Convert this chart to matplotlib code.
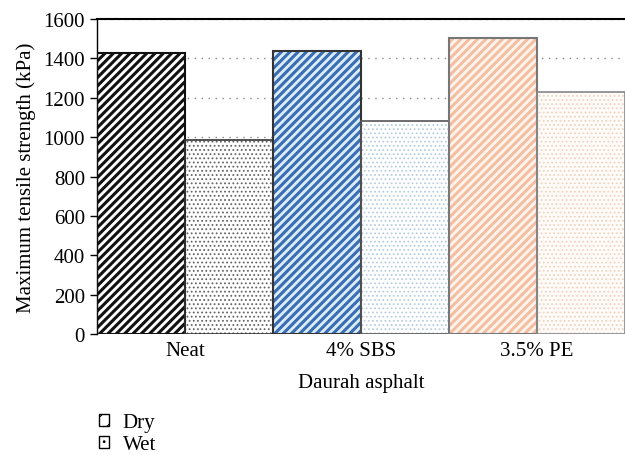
import numpy as np
import matplotlib.pyplot as plt
from matplotlib.patches import Patch

plt.rcParams['font.family'] = ['Liberation Serif', 'DejaVu Serif']

# Дані з рисунка
groups = ['Neat', '4% SBS', '3.5% PE']
dry = [1430, 1440, 1505]
wet = [985, 1080, 1230]

# Кольори: штриховка, фон, контур
dry_hatch = ['#111111', '#3b6db3', '#f3bfa3']
dry_face = ['#ffffff', '#d9ecf8', '#fff4ec']
dry_edge = ['#111111', '#333333', '#777777']
wet_hatch = ['#666666', '#b8cde0', '#efd2c4']
wet_face = ['#ffffff', '#ffffff', '#fffbf8']
wet_edge = ['#333333', '#555555', '#888888']

fig = plt.figure(figsize=(6.25, 4.56), dpi=100)
ax = fig.add_axes([0.155, 0.265, 0.845, 0.691])

x = np.arange(len(groups))
w = 0.5

ax.yaxis.grid(True, linestyle=(0, (1, 4)), color='#888888', linewidth=1)
ax.set_axisbelow(True)

for i in range(len(groups)):
    with plt.rc_context({'hatch.linewidth': 2.2}):
        ax.bar(x[i] - w / 2, dry[i], w, color=dry_face[i], hatch='////',
               edgecolor=dry_hatch[i], linewidth=0, zorder=2)
    with plt.rc_context({'hatch.linewidth': 0.8}):
        ax.bar(x[i] + w / 2, wet[i], w, color=wet_face[i], hatch='....',
               edgecolor=wet_hatch[i], linewidth=0, zorder=2)
    ax.bar(x[i] - w / 2, dry[i], w, fill=False, edgecolor=dry_edge[i],
           linewidth=1.5, zorder=3)
    ax.bar(x[i] + w / 2, wet[i], w, fill=False, edgecolor=wet_edge[i],
           linewidth=1.2, zorder=3)

ax.set_xlim(-0.5, 2.5)
ax.set_ylim(0, 1600)
ax.set_yticks(np.arange(0, 1601, 200))
ax.set_xticks(x)
ax.set_xticklabels(groups, fontsize=15)
ax.tick_params(axis='x', length=0, pad=5)
ax.tick_params(axis='y', labelsize=15, length=5, width=1, direction='out')
ax.spines['bottom'].set_visible(False)
ax.spines['right'].set_visible(False)
ax.spines['top'].set_linewidth(1.5)
ax.spines['left'].set_linewidth(1)

ax.set_xlabel('Daurah asphalt', fontsize=15, labelpad=9)
ax.set_ylabel('Maximum tensile strength (kPa)', fontsize=15, labelpad=5)

handles = [Patch(facecolor='white', edgecolor='black', hatch='//', label='Dry'),
           Patch(facecolor='white', edgecolor='black', hatch='..', label='Wet')]
with plt.rc_context({'hatch.linewidth': 0.8}):
    fig.legend(handles=handles, loc='upper left', bbox_to_anchor=(0.128, 0.133),
               frameon=False, fontsize=15, handlelength=0.5, handleheight=0.5,
               handletextpad=0.65, labelspacing=0.15)

fig.savefig('out.png', dpi=100)
